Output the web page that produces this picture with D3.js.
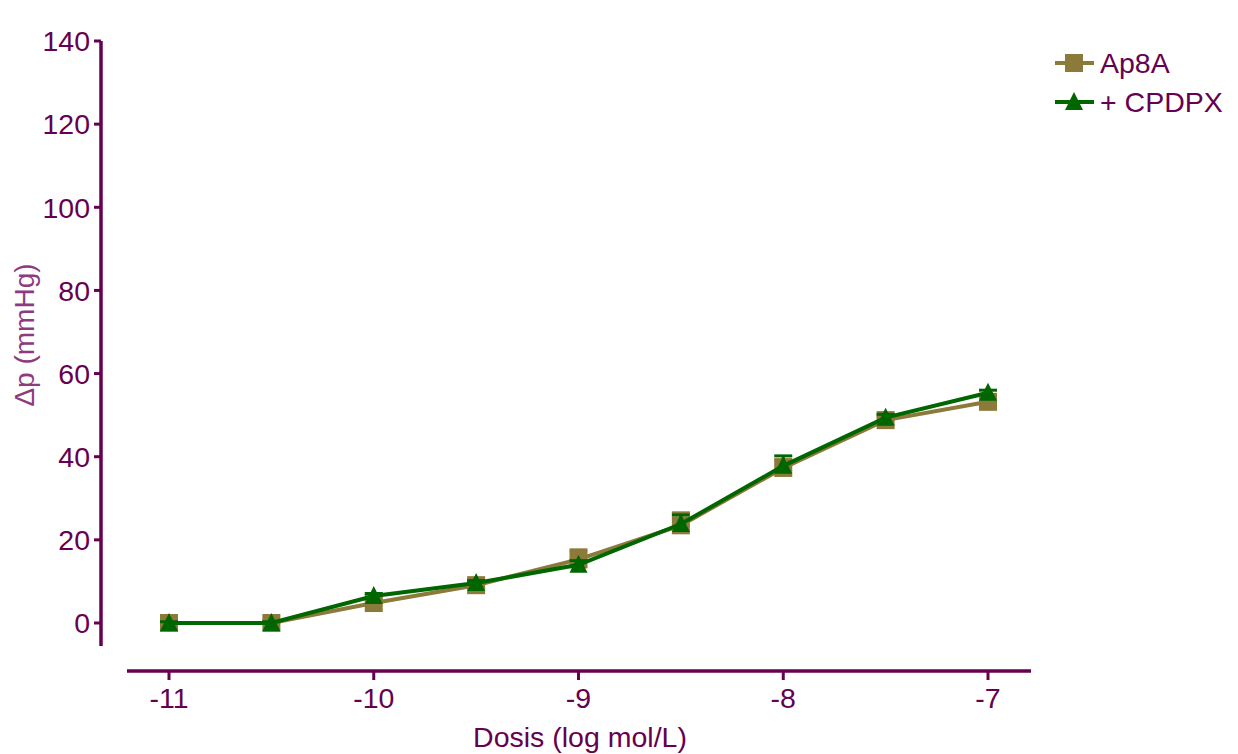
<!DOCTYPE html>
<html><head><meta charset="utf-8">
<script src="https://cdn.jsdelivr.net/npm/d3@7"></script>
<style>body{margin:0;background:#fff}svg{display:block}text{font-family:"Liberation Sans",Arial,sans-serif}</style>
</head><body><svg id="c" width="1238" height="754"></svg>
<script>
const doses = [-11, -10.5, -10, -9.5, -9, -8.5, -8, -7.5, -7];
const ap8a = [0, 0, 4.8, 9.1, 15.3, 23.5, 37.3, 48.8, 53.2];
const ap8aErr = [0.4, 0.4, 0.8, 0.8, 2.3, 3.0, 2.0, 0.8, 0.8];
const cpdpx = [0, 0, 6.5, 9.6, 14.0, 23.8, 37.8, 49.4, 55.4];
const cpdpxErr = [0.3, 0.3, 0.6, 0.6, 1.0, 2.2, 2.4, 0.8, 0.6];
const xTicks = [-11, -10, -9, -8, -7];
const yTicks = [0, 20, 40, 60, 80, 100, 120, 140];
const seriesNames = ["Ap8A", "+ CPDPX"];

const axisColor = "#660050";
const FS = 28.5;
const svg = d3.select("#c");
const x = d3.scaleLinear().domain([-11, -7]).range([169, 988]);
const y = d3.scaleLinear().domain([0, 140]).range([623, 41]);

// Y axis
const yAxisG = svg.append("g");
yAxisG.append("line").attr("x1", 101).attr("x2", 101).attr("y1", y(140)).attr("y2", 646)
  .attr("stroke", axisColor).attr("stroke-width", 3.5);
yTicks.forEach(t => {
  yAxisG.append("line").attr("x1", 94).attr("x2", 101).attr("y1", y(t)).attr("y2", y(t))
    .attr("stroke", axisColor).attr("stroke-width", 3);
  yAxisG.append("text").attr("x", 90).attr("y", y(t)).attr("dy", "0.36em")
    .attr("text-anchor", "end").attr("font-size", FS).attr("fill", axisColor).text(t);
});
// X axis
const xAxisG = svg.append("g");
xAxisG.append("line").attr("x1", 127).attr("x2", 1031).attr("y1", 671).attr("y2", 671)
  .attr("stroke", axisColor).attr("stroke-width", 3.5);
xTicks.forEach(t => {
  xAxisG.append("line").attr("x1", x(t)).attr("x2", x(t)).attr("y1", 671).attr("y2", 680)
    .attr("stroke", axisColor).attr("stroke-width", 3);
  xAxisG.append("text").attr("x", x(t)).attr("y", 708)
    .attr("text-anchor", "middle").attr("font-size", FS).attr("fill", axisColor).text(t);
});
svg.append("text").attr("x", 580).attr("y", 747).attr("text-anchor", "middle")
  .attr("font-size", FS).attr("fill", axisColor).text("Dosis (log mol/L)");
svg.append("text").attr("transform", "translate(34,335) rotate(-90)").attr("text-anchor", "middle")
  .attr("font-size", 28).attr("fill", "#8e3a7e").text("Δp (mmHg)");

const series = [
  {name: seriesNames[0], vals: ap8a, err: ap8aErr, color: "#8c7a3a", marker: "square"},
  {name: seriesNames[1], vals: cpdpx, err: cpdpxErr, color: "#006600", marker: "triangle"}
];
const line = d3.line().x(d => x(d[0])).y(d => y(d[1]));
function marker(g, type, cx, cy, color) {
  if (type === "square") {
    g.append("rect").attr("x", cx - 9).attr("y", cy - 9).attr("width", 18).attr("height", 18).attr("fill", color);
  } else {
    g.append("path").attr("d", `M${cx},${cy-10}L${cx+9},${cy+8}L${cx-9},${cy+8}Z`).attr("fill", color);
  }
}
series.forEach(s => {
  const g = svg.append("g");
  const pts = doses.map((d, i) => [d, s.vals[i], s.err[i]]);
  pts.forEach(p => {
    const cx = x(p[0]);
    g.append("line").attr("x1", cx).attr("x2", cx).attr("y1", y(p[1])).attr("y2", y(p[1] + p[2]))
      .attr("stroke", s.color).attr("stroke-width", 3);
    g.append("line").attr("x1", cx - 9).attr("x2", cx + 9).attr("y1", y(p[1] + p[2])).attr("y2", y(p[1] + p[2]))
      .attr("stroke", s.color).attr("stroke-width", 3);
  });
  g.append("path").datum(pts).attr("d", line).attr("fill", "none").attr("stroke", s.color).attr("stroke-width", 4);
  pts.forEach(p => marker(g, s.marker, x(p[0]), y(p[1]), s.color));
});

// Legend
series.forEach((s, i) => {
  const ly = 63 + i * 39;
  const g = svg.append("g");
  g.append("line").attr("x1", 1055).attr("x2", 1094).attr("y1", ly).attr("y2", ly)
    .attr("stroke", s.color).attr("stroke-width", 4);
  marker(g, s.marker, 1074, ly, s.color);
  g.append("text").attr("x", 1100).attr("y", ly).attr("dy", "0.36em").attr("font-size", FS)
    .attr("fill", axisColor).text(s.name);
});
</script></body></html>
